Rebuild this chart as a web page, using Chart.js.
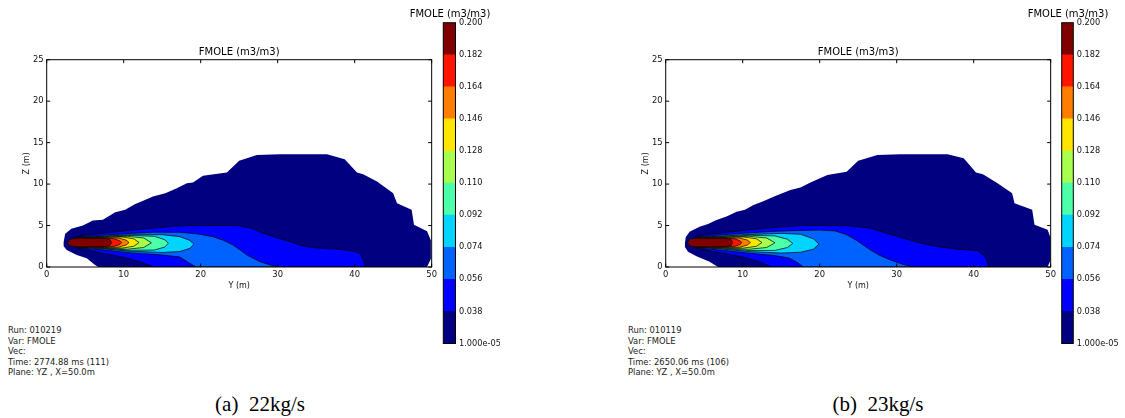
<!DOCTYPE html>
<html>
<head>
<meta charset="utf-8">
<script src="https://cdn.jsdelivr.net/npm/chart.js@4.4.1/dist/chart.umd.min.js"></script>
<style>
  html, body { margin: 0; padding: 0; background: #fff; }
  #page { position: relative; width: 1125px; height: 418px; overflow: hidden; }
  .box { position: absolute; }
  .note { position: absolute; font-family: "DejaVu Sans", sans-serif; font-size: 8.4px; line-height: 10.5px; color: #222; white-space: pre; }
  .cap { position: absolute; font-family: "Liberation Serif", "Times New Roman", serif; font-size: 21px; line-height: 21px; color: #000; white-space: pre; transform: translateX(-50%); }
</style>
</head>
<body>
<div id="page">
  <div class="box" style="left:0px;top:0px;width:440px;height:300px"><canvas id="plotA"></canvas></div>
  <div class="box" style="left:400px;top:0px;width:100px;height:360px"><canvas id="barA"></canvas></div>
  <div class="box" style="left:619px;top:0px;width:440px;height:300px"><canvas id="plotB"></canvas></div>
  <div class="box" style="left:1018px;top:0px;width:100px;height:360px"><canvas id="barB"></canvas></div>
  <div class="note" id="noteA" style="left:8px;top:325px"></div>
  <div class="note" id="noteB" style="left:628px;top:325px"></div>
  <div class="cap" id="capA" style="left:260px;top:394px"></div>
  <div class="cap" id="capB" style="left:878px;top:394px"></div>
</div>
<script>
// colour levels (jet, 10 bands) and colorbar tick labels
const levelLabels = ['1.000e-05', '0.038', '0.056', '0.074', '0.092', '0.110', '0.128', '0.146', '0.164', '0.182', '0.200'];
const bandColors = ['#000080', '#0000ff', '#0063ff', '#00d4ff', '#4dffa9', '#a9ff4d', '#ffe500', '#ff7d00', '#ff1400', '#800000'];

const xTicks = [0, 10, 20, 30, 40, 50];
const yTicks = [0, 5, 10, 15, 20, 25];

// panel (a) 22kg/s : contour polygons [Y (m), Z (m)], outer level first
const aNavy = [[2.2,3.0],[2.4,4.0],[3.2,4.6],[4.7,5.0],[6.0,5.6],[7.3,5.7],[8.9,6.6],[10.2,6.9],[11.5,7.6],[12.3,7.9],[13.8,8.5],[15.4,8.9],[16.9,9.5],[18.2,10.1],[19.0,10.2],[20.3,11.0],[23.4,11.4],[25.0,12.8],[27.3,13.5],[30.3,13.6],[36.4,13.6],[38.7,13.0],[40.3,11.4],[41.1,11.2],[42.9,10.3],[45.0,8.9],[45.5,7.7],[47.4,6.9],[47.7,5.1],[49.4,4.3],[49.9,3.2],[49.9,1.0],[49.4,0],[6.7,0],[6.2,0.3],[5.2,1.05],[3.9,1.45],[2.6,2.05],[2.2,2.5]];
const aBlue = [[2.6,3.0],[3.2,3.5],[5.0,3.85],[8.0,4.15],[11.0,4.45],[14.0,4.7],[17.0,4.95],[20.0,5.0],[24.7,5.0],[26.5,4.7],[28.1,4.07],[30.0,3.5],[31.6,3.05],[33.0,2.6],[34.6,2.33],[38.1,2.13],[39.8,1.9],[40.6,1.7],[41.1,0.85],[41.4,0],[14.0,0],[12.1,0.64],[10.0,1.17],[7.8,1.57],[5.6,1.97],[4.0,2.3],[3.0,2.6]];
const aMid = [[2.8,3.0],[4.0,3.6],[7.5,3.85],[11.0,4.05],[14.0,4.2],[17.3,4.18],[19.5,4.0],[21.6,3.66],[23.0,3.2],[24.2,2.65],[25.2,2.0],[26.0,1.45],[27.7,0.64],[29.9,0],[19.4,0],[18.3,0.6],[17.3,1.2],[15.0,1.45],[11.0,1.7],[7.5,2.05],[4.0,2.32]];
const aCyan = [[2.8,3.0],[4.0,3.56],[7.5,3.72],[11.0,3.88],[15.0,3.9],[17.3,3.66],[18.6,3.2],[19.1,2.74],[18.6,2.25],[17.3,1.87],[15.0,1.75],[11.0,1.9],[7.5,2.18],[4.0,2.38]];
const aAqua = [[2.9,3.0],[4.0,3.54],[7.5,3.66],[11.0,3.8],[14.0,3.7],[15.3,3.3],[15.8,2.85],[15.3,2.4],[14.0,2.05],[11.0,2.02],[7.5,2.24],[4.0,2.4]];
const aLime = [[2.9,3.0],[4.0,3.52],[7.5,3.62],[10.5,3.7],[12.6,3.5],[13.6,2.92],[12.6,2.35],[10.5,2.15],[7.5,2.28],[4.0,2.42]];
const aYellow = [[2.9,3.0],[4.0,3.5],[7.5,3.58],[9.8,3.62],[11.3,3.4],[12.0,2.95],[11.3,2.5],[9.8,2.28],[7.5,2.32],[4.0,2.43]];
const aOrange = [[2.9,3.0],[4.0,3.48],[7.5,3.54],[9.3,3.5],[10.3,3.25],[10.7,2.95],[10.3,2.65],[9.3,2.38],[7.5,2.36],[4.0,2.44]];
const aRed = [[2.9,3.0],[4.0,3.46],[7.5,3.5],[8.8,3.4],[9.5,3.15],[9.74,2.95],[9.5,2.72],[8.8,2.5],[7.5,2.4],[4.0,2.45]];
const aCore = [[2.7,2.95],[3.0,3.35],[3.8,3.46],[7.6,3.46],[8.2,3.3],[8.45,2.95],[8.2,2.6],[7.6,2.45],[3.8,2.45],[3.0,2.55]];

// panel (b) 23kg/s
const bNavy = [[2.5,2.85],[2.6,3.6],[3.1,4.26],[4.4,4.86],[5.5,5.2],[6.6,5.67],[7.9,6.1],[9.2,6.67],[10.3,6.9],[11.4,7.48],[12.6,7.9],[14.0,8.48],[16.2,9.29],[17.5,9.6],[18.8,10.2],[21.0,11.1],[23.5,11.5],[25.0,12.8],[27.5,13.5],[30.5,13.6],[36.6,13.6],[38.7,13.1],[40.3,11.4],[41.2,11.2],[43.1,10.1],[45.0,8.9],[45.3,7.7],[47.6,6.9],[47.9,5.1],[49.6,4.5],[50.0,3.5],[50.0,0.84],[49.6,0],[6.8,0],[5.7,0.64],[4.0,1.3],[2.9,1.85],[2.5,2.4]];
const bBlue = [[2.7,3.0],[3.2,3.55],[5.0,3.9],[8.0,4.2],[11.0,4.5],[14.0,4.75],[17.8,5.0],[23.0,5.0],[25.2,4.85],[26.6,4.67],[28.5,4.1],[30.9,3.46],[33.0,2.9],[35.3,2.45],[38.0,2.15],[40.5,1.97],[41.3,1.4],[41.6,1.05],[42.0,0],[13.8,0],[12.0,0.7],[10.0,1.2],[7.8,1.6],[5.6,1.97],[4.0,2.3],[3.0,2.6]];
const bMid = [[2.9,3.0],[4.0,3.62],[7.5,3.9],[11.0,4.12],[14.0,4.3],[17.0,4.4],[20.0,4.45],[22.0,4.35],[23.5,3.9],[24.8,3.2],[25.8,2.55],[26.6,2.05],[27.8,1.4],[29.2,0.84],[30.7,0.35],[32.2,0],[17.9,0],[17.0,0.6],[16.0,1.1],[14.0,1.4],[11.0,1.65],[7.5,2.0],[4.0,2.3]];
const bCyan = [[2.9,3.0],[4.0,3.56],[7.5,3.74],[11.0,3.92],[15.0,4.05],[17.5,3.95],[19.2,3.4],[19.9,2.75],[19.2,2.15],[17.5,1.78],[15.0,1.68],[11.0,1.85],[7.5,2.15],[4.0,2.38]];
const bAqua = [[2.9,3.0],[4.0,3.54],[7.5,3.68],[11.0,3.82],[14.2,3.75],[15.8,3.35],[16.5,2.85],[15.8,2.35],[14.2,2.0],[11.0,1.98],[7.5,2.22],[4.0,2.4]];
const bLime = [[2.9,3.0],[4.0,3.52],[7.5,3.62],[10.8,3.7],[13.1,3.5],[14.2,2.92],[13.1,2.35],[10.8,2.14],[7.5,2.27],[4.0,2.42]];
const bYellow = [[2.9,3.0],[4.0,3.5],[7.5,3.58],[10.1,3.62],[11.8,3.4],[12.5,2.95],[11.8,2.5],[10.1,2.28],[7.5,2.32],[4.0,2.43]];
const bOrange = [[2.9,3.0],[4.0,3.48],[7.5,3.54],[9.6,3.5],[10.6,3.25],[11.0,2.95],[10.6,2.65],[9.6,2.38],[7.5,2.36],[4.0,2.44]];
const bRed = [[2.9,3.0],[4.0,3.46],[7.5,3.5],[9.0,3.4],[9.65,3.15],[9.9,2.95],[9.65,2.72],[9.0,2.5],[7.5,2.4],[4.0,2.45]];
const bCore = [[2.85,2.95],[3.1,3.35],[3.9,3.46],[7.9,3.46],[8.5,3.3],[8.7,2.95],[8.5,2.6],[7.9,2.45],[3.9,2.45],[3.1,2.55]];

const runInfoA = ['Run: 010219', 'Var: FMOLE', 'Vec:', 'Time: 2774.88 ms (111)', 'Plane: YZ , X=50.0m'];
const runInfoB = ['Run: 010119', 'Var: FMOLE', 'Vec:', 'Time: 2650.06 ms (106)', 'Plane: YZ , X=50.0m'];
const captionA = '(a)  22kg/s';
const captionB = '(b)  23kg/s';

const FONT = '"DejaVu Sans", "Liberation Sans", sans-serif';

// black frame round the plot area + matplotlib style inward ticks
const framePlugin = {
    id: 'frame',
    afterDatasetsDraw(chart, args, opts) {
        const {ctx, chartArea: a} = chart;
        ctx.save();
        ctx.strokeStyle = '#000';
        ctx.lineWidth = 1;
        ctx.strokeRect(a.left, a.top, a.right - a.left, a.bottom - a.top);
        if (opts.ticks) {
            const len = 3.5;
            const sx = chart.scales.x, sy = chart.scales.y;
            ctx.beginPath();
            sx.ticks.forEach(t => {
                const p = sx.getPixelForValue(t.value);
                ctx.moveTo(p, a.bottom); ctx.lineTo(p, a.bottom - len);
                ctx.moveTo(p, a.top); ctx.lineTo(p, a.top + len);
            });
            sy.ticks.forEach(t => {
                const p = sy.getPixelForValue(t.value);
                ctx.moveTo(a.left, p); ctx.lineTo(a.left + len, p);
                ctx.moveTo(a.right, p); ctx.lineTo(a.right - len, p);
            });
            ctx.stroke();
        }
        ctx.restore();
    }
};

function polygon(pts) {
    return pts.concat([pts[0]]).map(([x, y]) => ({x, y}));
}

function drawPlot(id, polys) {
    // innermost first: index 0 is painted last by Chart.js
    const datasets = polys.map((p, i) => ({
        data: polygon(p),
        backgroundColor: bandColors[i],
        borderColor: '#000',
        borderWidth: i === 0 ? 0 : 0.7,
        fill: 'shape',
        pointRadius: 0,
        tension: 0
    })).reverse();

    new Chart(document.getElementById(id), {
        type: 'line',
        data: { datasets },
        plugins: [framePlugin],
        options: {
            responsive: true,
            maintainAspectRatio: false,
            animation: false,
            events: [],
            layout: { padding: { left: 0, right: 8.3, top: 0, bottom: 0 } },
            plugins: {
                legend: { display: false },
                tooltip: { enabled: false },
                frame: { ticks: true },
                title: {
                    display: true,
                    text: 'FMOLE (m3/m3)',
                    fullSize: false,
                    color: '#000',
                    font: { family: FONT, size: 10, weight: 'normal', lineHeight: 1.2 },
                    padding: { top: 46.5, bottom: 1.2 }
                }
            },
            scales: {
                x: {
                    type: 'linear', min: 0, max: 50,
                    afterBuildTicks: s => { s.ticks = xTicks.map(v => ({value: v})); },
                    afterFit: s => { s.height = 33; },
                    grid: { display: false, drawTicks: false },
                    border: { display: false },
                    ticks: { color: '#111', font: { family: FONT, size: 8.4 }, padding: 3, maxRotation: 0 },
                    title: { display: true, text: 'Y (m)', color: '#111', font: { family: FONT, size: 8 }, padding: { top: 0, bottom: 9.2 } }
                },
                y: {
                    type: 'linear', min: 0, max: 25,
                    afterBuildTicks: s => { s.ticks = yTicks.map(v => ({value: v})); },
                    afterFit: s => { s.width = 46.7; },
                    grid: { display: false, drawTicks: false },
                    border: { display: false },
                    ticks: { color: '#111', font: { family: FONT, size: 8.4 }, padding: 3 },
                    title: { display: true, text: 'Z (m)', color: '#111', font: { family: FONT, size: 8 }, padding: { top: 22, bottom: 0 } }
                }
            }
        }
    });
}

function drawColorbar(id, padLeft, axisWidth) {
    const datasets = bandColors.map(c => ({
        data: [1],
        yAxisID: 'y',
        backgroundColor: c,
        borderWidth: 0,
        barPercentage: 1,
        categoryPercentage: 1
    }));
    new Chart(document.getElementById(id), {
        type: 'bar',
        data: { labels: [''], datasets },
        plugins: [framePlugin],
        options: {
            responsive: true,
            maintainAspectRatio: false,
            animation: false,
            events: [],
            layout: { padding: { left: 0, right: 0, top: 0, bottom: 16.5 } },
            plugins: {
                legend: { display: false },
                tooltip: { enabled: false },
                frame: { ticks: false },
                title: {
                    display: true,
                    text: 'FMOLE (m3/m3)',
                    color: '#000',
                    font: { family: FONT, size: 10, weight: 'normal', lineHeight: 1.2 },
                    padding: { top: 8, bottom: 2.7 }
                }
            },
            scales: {
                x: { display: false, stacked: true },
                y: {
                    stacked: true, position: 'right', min: 0, max: levelLabels.length - 1,
                    afterBuildTicks: s => { s.ticks = levelLabels.map((l, i) => ({value: i})); },
                    afterFit: s => { s.width = axisWidth; },
                    grid: { display: false, drawTicks: false },
                    border: { display: false },
                    ticks: { color: '#111', font: { family: FONT, size: 8.2 }, padding: 3.5, callback: v => levelLabels[v] }
                },
                // empty spacer axis so the bar sits at the right place while the title stays centred
                spacer: {
                    type: 'linear', position: 'left', min: 0, max: 1,
                    afterFit: s => { s.width = padLeft; },
                    grid: { display: false, drawTicks: false },
                    border: { display: false },
                    ticks: { display: false }
                }
            }
        }
    });
}

drawPlot('plotA', [aNavy, aBlue, aMid, aCyan, aAqua, aLime, aYellow, aOrange, aRed, aCore]);
drawPlot('plotB', [bNavy, bBlue, bMid, bCyan, bAqua, bLime, bYellow, bOrange, bRed, bCore]);
drawColorbar('barA', 43.3, 44.5);
drawColorbar('barB', 43.7, 44.7);

document.getElementById('noteA').textContent = runInfoA.join('\n');
document.getElementById('noteB').textContent = runInfoB.join('\n');
document.getElementById('capA').textContent = captionA;
document.getElementById('capB').textContent = captionB;
</script>
</body>
</html>
